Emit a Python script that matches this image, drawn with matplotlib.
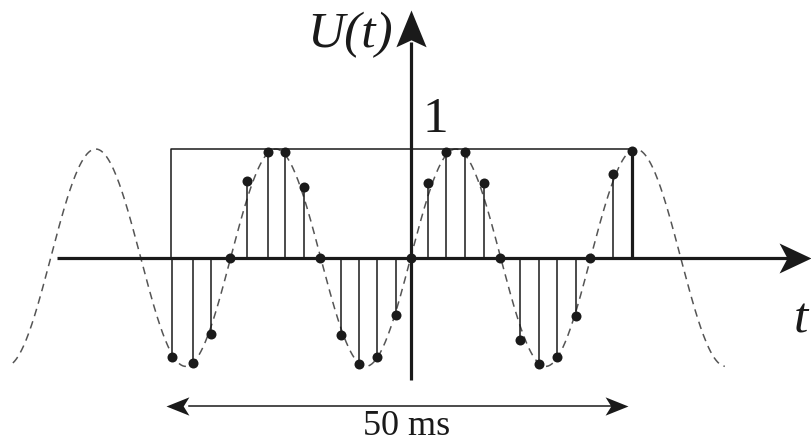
import numpy as np
import matplotlib
matplotlib.use("Agg")
import matplotlib.pyplot as plt
from matplotlib.path import Path

t_samples = [-26.5, -24.2, -22.2, -20.1, -18.2, -15.9, -14.0, -11.9, -10.1,
             -7.7, -5.7, -3.7, -1.6, 0.0, 1.9, 3.9, 6.0, 8.1, 9.9,
             12.1, 14.3, 16.3, 18.4, 19.9, 22.5, 24.6]
u_samples = [-0.91, -0.97, -0.70, 0.0, 0.71, 0.97, 0.97, 0.65, 0.0,
             -0.71, -0.98, -0.91, -0.53, 0.0, 0.69, 0.975, 0.975, 0.69, 0.0,
             -0.76, -0.98, -0.91, -0.54, 0.0, 0.77, 0.98]

# underlying signal: 50 Hz sine, unit amplitude
freq_hz = 50
amplitude = 1.0
t_curve_start, t_curve_end = -44.2, 34.9

# rectangular window
win_start, win_end = -26.6, 24.6
win_height = 1.0

px = 9.0        # px per ms
py = 108.7      # px per unit
x0, y0 = 410.7, 257.7


def tx(p):
    return (p - x0) / px


def ty(p):
    return (y0 - p) / py


def stealth(direction, half_w, notch):
    if direction == "right":
        v = [(0, 0), (-1, half_w), (-notch, 0), (-1, -half_w), (0, 0)]
    elif direction == "left":
        v = [(0, 0), (1, half_w), (notch, 0), (1, -half_w), (0, 0)]
    else:
        v = [(0, 0), (half_w, -1), (0, -notch), (-half_w, -1), (0, 0)]
    codes = [Path.MOVETO, Path.LINETO, Path.LINETO, Path.LINETO, Path.CLOSEPOLY]
    return Path(v, codes)


fig = plt.figure(figsize=(8.12, 4.44), dpi=100)
ax = fig.add_axes([0, 0, 1, 1])
ax.set_xlim(tx(0), tx(812))
ax.set_ylim(ty(444), ty(0))
ax.axis("off")

# dashed sine
tc = np.linspace(t_curve_start, t_curve_end, 800)
ax.plot(tc, amplitude * np.sin(2 * np.pi * freq_hz * tc / 1000.0),
        color="#555555", lw=1.1, ls=(0, (5, 3.5)), zorder=2)

# axes with arrows
ax.plot([tx(56.7), tx(790)], [0, 0], color="#1a1a1a", lw=2.3, zorder=3,
        solid_capstyle="butt")
ax.plot([tx(811.5)], [0], marker=stealth("right", 0.47, 0.75), ms=46,
        mew=0, color="#1a1a1a", zorder=4)
ax.plot([0, 0], [ty(380), ty(42)], color="#1a1a1a", lw=2.3, zorder=3,
        solid_capstyle="butt")
ax.plot([0], [ty(10)], marker=stealth("up", 0.41, 0.81), ms=53,
        mew=0, color="#1a1a1a", zorder=4)

# window
ax.plot([win_start, win_start, win_end], [0, win_height, win_height],
        color="#1a1a1a", lw=1.1, zorder=3)

# stems and dots
for t, u in zip(t_samples[:-1], u_samples[:-1]):
    ax.plot([t, t], [0, u], color="#1a1a1a", lw=1.1, zorder=3)
ax.plot([t_samples[-1], t_samples[-1]], [0, win_height], color="#1a1a1a",
        lw=2.3, zorder=3, solid_capstyle="butt")
ax.plot(t_samples, u_samples, "o", color="#1a1a1a", ms=7.2, mew=0, zorder=5)

# 50 ms arrow
ya = ty(405.5)
ax.plot([win_start + 2.0, win_end - 2.0], [ya, ya], color="#1a1a1a", lw=1.1)
ax.plot([tx(166)], [ya], marker=stealth("left", 0.4, 0.75), ms=33, mew=0,
        color="#1a1a1a")
ax.plot([tx(628)], [ya], marker=stealth("right", 0.4, 0.75), ms=33, mew=0,
        color="#1a1a1a")

serif = "Liberation Serif"
ax.text(tx(393), ty(47), "U(t)", family=serif, style="italic", fontsize=37,
        ha="right", va="baseline", color="#1a1a1a")
ax.text(tx(435), ty(132), "1", family=serif, fontsize=37,
        ha="center", va="baseline", color="#1a1a1a")
ax.text(tx(801), ty(332), "t", family=serif, style="italic", fontsize=37,
        ha="center", va="baseline", color="#1a1a1a")
ax.text(tx(407), ty(435), "50 ms", family=serif, fontsize=26,
        ha="center", va="baseline", color="#1a1a1a")

fig.savefig("out.png", dpi=100)
